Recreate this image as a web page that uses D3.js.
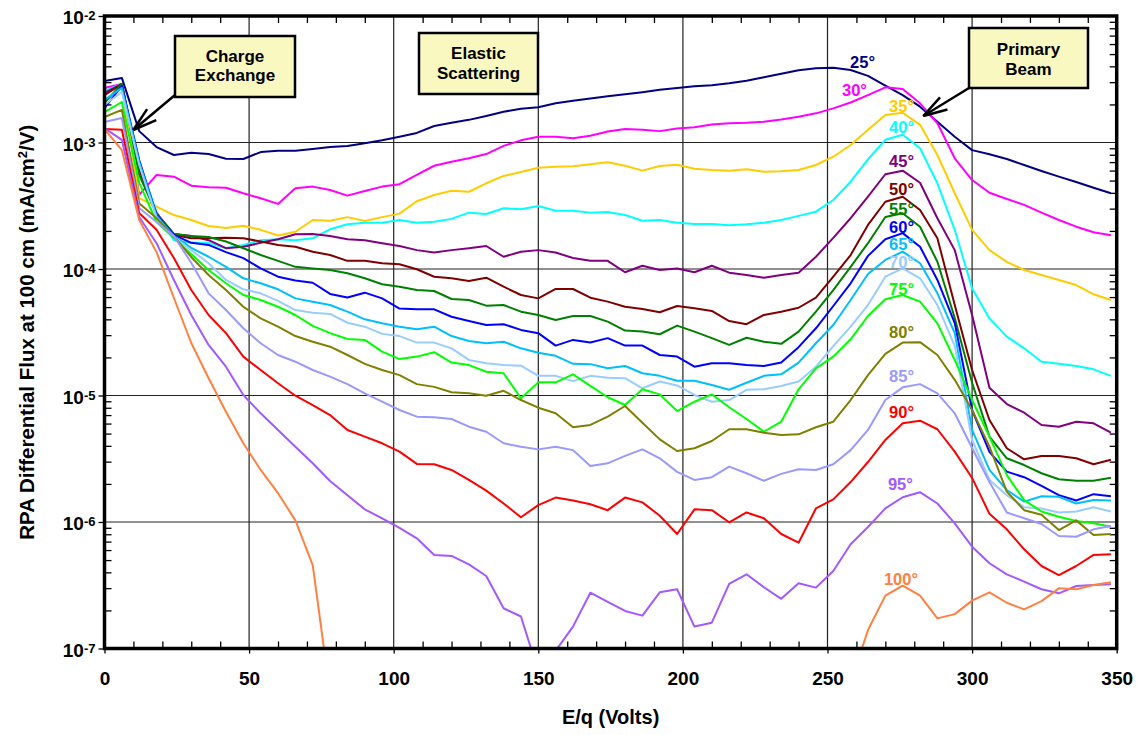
<!DOCTYPE html>
<html>
<head>
<meta charset="utf-8">
<script src="https://cdn.jsdelivr.net/npm/d3@7"></script>
<style>
  body { margin: 0; background: #fff; }
  svg { font-family: Arial, "Liberation Sans", sans-serif; font-weight: bold; }
</style>
</head>
<body>
<svg id="chart" width="1137" height="735"></svg>
<script>
// sample energies (E/q, volts)
const energy = [0, 6, 12, 18, 24, 30, 36, 42, 48, 54, 60, 66, 72, 78, 84, 90, 96, 102, 108, 114,
  120, 126, 132, 138, 144, 150, 156, 162, 168, 174, 180, 186, 192, 198, 204, 210, 216, 222, 228, 234,
  240, 246, 252, 258, 264, 270, 276, 282, 288, 294, 300, 306, 312, 318, 324, 330, 336, 342, 348]

// differential flux per scattering angle, mA/cm^2/V
const flux25 = [3.06e-3, 3.24e-3, 1.23e-3, 9.2e-4, 7.97e-4, 8.3e-4, 8.1e-4, 7.45e-4, 7.4e-4, 8.4e-4,
  8.6e-4, 8.6e-4, 8.9e-4, 9.2e-4, 9.4e-4, 9.85e-4, 1.04e-3, 1.11e-3, 1.19e-3, 1.35e-3,
  1.43e-3, 1.51e-3, 1.62e-3, 1.75e-3, 1.85e-3, 1.9e-3, 2.04e-3, 2.14e-3, 2.23e-3, 2.32e-3,
  2.41e-3, 2.5e-3, 2.61e-3, 2.7e-3, 2.78e-3, 2.84e-3, 2.94e-3, 3.08e-3, 3.28e-3, 3.5e-3,
  3.72e-3, 3.86e-3, 3.9e-3, 3.74e-3, 3.36e-3, 2.81e-3, 2.37e-3, 1.92e-3, 1.46e-3, 1.11e-3,
  8.7e-4, 8.07e-4, 7.4e-4, 6.64e-4, 5.95e-4, 5.37e-4, 4.87e-4, 4.39e-4, 3.97e-4]
const flux30 = [2.7e-3, 2.9e-3, 3.85e-4, 5.54e-4, 5.37e-4, 4.56e-4, 4.42e-4, 4.39e-4, 3.97e-4, 3.62e-4,
  3.27e-4, 4.35e-4, 4.48e-4, 4.21e-4, 3.8e-4, 4.14e-4, 4.48e-4, 4.68e-4, 5.54e-4, 6.55e-4,
  7.05e-4, 7.5e-4, 8.1e-4, 9.4e-4, 1.04e-3, 1.11e-3, 1.11e-3, 1.08e-3, 1.13e-3, 1.22e-3,
  1.28e-3, 1.26e-3, 1.23e-3, 1.29e-3, 1.32e-3, 1.39e-3, 1.42e-3, 1.43e-3, 1.46e-3, 1.52e-3,
  1.6e-3, 1.7e-3, 1.86e-3, 2.07e-3, 2.37e-3, 2.73e-3, 2.65e-3, 2.04e-3, 1.42e-3, 7.5e-4,
  5.05e-4, 4.01e-4, 3.58e-4, 3.21e-4, 2.79e-4, 2.44e-4, 2.16e-4, 1.95e-4, 1.85e-4]
const flux35 = [2.51e-3, 2.9e-3, 3.64e-4, 3.11e-4, 2.67e-4, 2.44e-4, 2.19e-4, 2.11e-4, 2.2e-4, 2.04e-4,
  1.84e-4, 1.97e-4, 2.44e-4, 2.41e-4, 2.57e-4, 2.4e-4, 2.57e-4, 2.74e-4, 3.43e-4, 3.85e-4,
  4.16e-4, 4.08e-4, 4.76e-4, 5.44e-4, 5.85e-4, 6.32e-4, 6.44e-4, 6.48e-4, 6.73e-4, 6.98e-4,
  6.55e-4, 5.99e-4, 6.52e-4, 6.68e-4, 6.21e-4, 6.06e-4, 5.99e-4, 6.14e-4, 5.88e-4, 5.92e-4,
  6.06e-4, 6.64e-4, 7.72e-4, 9.56e-4, 1.26e-3, 1.65e-3, 1.72e-3, 1.38e-3, 7.97e-4, 3.97e-4,
  2.04e-4, 1.41e-4, 1.14e-4, 9.82e-5, 8.97e-5, 8.19e-5, 7.47e-5, 6.31e-5, 5.69e-5]
const flux40 = [2.56e-3, 2.9e-3, 7.01e-4, 2.82e-4, 1.69e-4, 1.61e-4, 1.61e-4, 1.46e-4, 1.55e-4, 1.69e-4,
  1.72e-4, 1.69e-4, 1.75e-4, 2.06e-4, 2.26e-4, 2.32e-4, 2.32e-4, 2.44e-4, 2.32e-4, 2.36e-4,
  2.49e-4, 2.79e-4, 2.72e-4, 3.02e-4, 2.97e-4, 3.15e-4, 2.89e-4, 2.89e-4, 2.79e-4, 2.82e-4,
  2.67e-4, 2.41e-4, 2.44e-4, 2.32e-4, 2.27e-4, 2.27e-4, 2.22e-4, 2.26e-4, 2.32e-4, 2.44e-4,
  2.63e-4, 2.84e-4, 3.51e-4, 4.9e-4, 7.37e-4, 1.05e-3, 1.15e-3, 9.0e-4, 4.76e-4, 2.04e-4,
  7.03e-5, 4.07e-5, 2.92e-5, 2.36e-5, 1.85e-5, 1.78e-5, 1.71e-5, 1.61e-5, 1.43e-5]
const flux45 = [2.47e-3, 2.9e-3, 6.06e-4, 2.77e-4, 1.89e-4, 1.82e-4, 1.69e-4, 1.46e-4, 1.5e-4, 1.61e-4,
  1.72e-4, 1.88e-4, 1.89e-4, 1.82e-4, 1.72e-4, 1.69e-4, 1.6e-4, 1.52e-4, 1.41e-4, 1.35e-4,
  1.41e-4, 1.46e-4, 1.52e-4, 1.25e-4, 1.37e-4, 1.41e-4, 1.35e-4, 1.22e-4, 1.16e-4, 1.16e-4,
  9.42e-5, 1.06e-4, 9.82e-5, 1.01e-4, 9.42e-5, 1.06e-4, 9.35e-5, 8.97e-5, 8.54e-5, 8.97e-5,
  9.35e-5, 1.25e-4, 1.76e-4, 2.52e-4, 3.73e-4, 5.61e-4, 5.99e-4, 4.81e-4, 2.52e-4, 1.41e-4,
  4.33e-5, 1.15e-5, 8.56e-6, 7.31e-6, 5.85e-6, 5.67e-6, 6.21e-6, 6.03e-6, 5.08e-6]
const flux50 = [2.37e-3, 2.9e-3, 6.29e-4, 2.67e-4, 1.86e-4, 1.75e-4, 1.75e-4, 1.77e-4, 1.75e-4, 1.65e-4,
  1.55e-4, 1.5e-4, 1.37e-4, 1.29e-4, 1.16e-4, 1.16e-4, 1.11e-4, 1.09e-4, 9.95e-5, 8.69e-5,
  8.44e-5, 8.04e-5, 8.54e-5, 7.25e-5, 6.23e-5, 5.86e-5, 6.95e-5, 6.95e-5, 5.93e-5, 5.52e-5,
  5.03e-5, 4.83e-5, 4.55e-5, 5.1e-5, 4.89e-5, 4.66e-5, 3.88e-5, 3.66e-5, 4.33e-5, 4.6e-5,
  4.94e-5, 5.93e-5, 8.69e-5, 1.29e-4, 2.23e-4, 3.4e-4, 3.73e-4, 2.93e-4, 1.75e-4, 5.19e-5,
  1.59e-5, 6.4e-6, 3.83e-6, 3.13e-6, 3.33e-6, 3.33e-6, 3.19e-6, 2.86e-6, 3.1e-6]
const flux55 = [2.06e-3, 2.9e-3, 5.54e-4, 2.72e-4, 1.89e-4, 1.82e-4, 1.79e-4, 1.65e-4, 1.46e-4, 1.29e-4,
  1.16e-4, 1.04e-4, 1.01e-4, 9.82e-5, 9.25e-5, 8.44e-5, 7.57e-5, 7.25e-5, 6.82e-5, 6.7e-5,
  5.79e-5, 5.69e-5, 5.13e-5, 5.19e-5, 4.6e-5, 4.33e-5, 3.95e-5, 4.25e-5, 4.25e-5, 3.84e-5,
  3.26e-5, 3.2e-5, 3.05e-5, 3.57e-5, 3.2e-5, 2.84e-5, 2.51e-5, 2.86e-5, 2.66e-5, 2.56e-5,
  3.2e-5, 4.6e-5, 6.82e-5, 1.04e-4, 1.6e-4, 2.58e-4, 2.76e-4, 2.16e-4, 1.14e-4, 4.1e-5,
  1.26e-5, 4.73e-6, 3.19e-6, 2.82e-6, 2.43e-6, 2.18e-6, 2.12e-6, 2.12e-6, 2.24e-6]
const flux60 = [1.87e-3, 2.8e-3, 7.27e-4, 2.67e-4, 1.86e-4, 1.61e-4, 1.55e-4, 1.36e-4, 1.22e-4, 1.01e-4,
  8.69e-5, 8.11e-5, 7.79e-5, 6.35e-5, 5.95e-5, 6.5e-5, 5.86e-5, 4.87e-5, 4.8e-5, 4.8e-5,
  4.19e-5, 3.88e-5, 3.61e-5, 3.66e-5, 3.3e-5, 3.11e-5, 2.48e-5, 2.75e-5, 2.62e-5, 2.84e-5,
  2.48e-5, 2.48e-5, 2.09e-5, 2.03e-5, 1.69e-5, 1.8e-5, 1.8e-5, 1.74e-5, 1.71e-5, 1.82e-5,
  2.41e-5, 3.4e-5, 5.1e-5, 7.71e-5, 1.27e-4, 1.72e-4, 1.92e-4, 1.5e-4, 8.19e-5, 3.74e-5,
  7.68e-6, 3.58e-6, 2.5e-6, 2.26e-6, 1.93e-6, 1.63e-6, 1.48e-6, 1.66e-6, 1.6e-6]
const flux65 = [2.17e-3, 2.7e-3, 7.01e-4, 2.63e-4, 1.82e-4, 1.47e-4, 1.25e-4, 1.04e-4, 8.44e-5, 7.71e-5,
  6.91e-5, 5.86e-5, 5.52e-5, 5.19e-5, 4.6e-5, 4.0e-5, 3.72e-5, 3.5e-5, 3.34e-5, 3.5e-5,
  2.95e-5, 2.7e-5, 2.59e-5, 2.66e-5, 2.36e-5, 2.18e-5, 2.06e-5, 1.78e-5, 1.77e-5, 1.64e-5,
  1.71e-5, 1.5e-5, 1.43e-5, 1.31e-5, 1.31e-5, 1.21e-5, 1.11e-5, 1.26e-5, 1.43e-5, 1.47e-5,
  1.82e-5, 2.59e-5, 3.61e-5, 5.69e-5, 9.13e-5, 1.18e-4, 1.37e-4, 1.11e-4, 6.42e-5, 3.11e-5,
  5.34e-6, 2.58e-6, 1.79e-6, 1.45e-6, 1.6e-6, 1.58e-6, 1.4e-6, 1.49e-6, 1.48e-6]
const flux70 = [1.98e-3, 2.51e-3, 6.64e-4, 2.54e-4, 1.79e-4, 1.41e-4, 1.11e-4, 8.19e-5, 6.91e-5, 6.42e-5,
  5.59e-5, 4.74e-5, 4.51e-5, 4.41e-5, 3.76e-5, 3.5e-5, 3.07e-5, 2.95e-5, 2.62e-5, 2.62e-5,
  2.36e-5, 1.91e-5, 1.8e-5, 1.74e-5, 1.72e-5, 1.43e-5, 1.43e-5, 1.3e-5, 1.43e-5, 1.38e-5,
  1.37e-5, 1.14e-5, 1.29e-5, 1.2e-5, 1.01e-5, 8.93e-6, 9.21e-6, 1.11e-5, 1.12e-5, 1.19e-5,
  1.29e-5, 1.69e-5, 2.46e-5, 3.5e-5, 5.19e-5, 8.69e-5, 1.01e-4, 8.44e-5, 5.19e-5, 2.47e-5,
  4.45e-6, 2.15e-6, 1.63e-6, 1.31e-6, 1.28e-6, 1.19e-6, 1.21e-6, 1.31e-6, 1.21e-6]
const flux75 = [1.74e-3, 2.09e-3, 4.79e-4, 2.35e-4, 1.76e-4, 1.31e-4, 9.82e-5, 7.71e-5, 6.23e-5, 5.69e-5,
  5.03e-5, 4.33e-5, 3.55e-5, 3.11e-5, 2.8e-5, 2.75e-5, 2.22e-5, 1.94e-5, 2.03e-5, 2.2e-5,
  1.82e-5, 1.74e-5, 1.54e-5, 1.5e-5, 9.5e-6, 1.27e-5, 1.27e-5, 1.47e-5, 1.19e-5, 9.68e-6,
  8.41e-6, 1.12e-5, 1.02e-5, 7.54e-6, 8.93e-6, 1.02e-5, 8.07e-6, 6.52e-6, 5.17e-6, 6.21e-6,
  1.12e-5, 1.64e-5, 2.03e-5, 2.78e-5, 4.25e-5, 5.76e-5, 6.23e-5, 5.52e-5, 3.72e-5, 1.91e-5,
  9.21e-6, 4.73e-6, 2.35e-6, 1.49e-6, 1.21e-6, 1.1e-6, 1.02e-6, 9.76e-7, 9.18e-7]
const flux80 = [1.59e-3, 1.81e-3, 3.31e-4, 2.52e-4, 1.82e-4, 1.24e-4, 8.97e-5, 6.82e-5, 5.03e-5, 4.07e-5,
  3.5e-5, 2.95e-5, 2.66e-5, 2.43e-5, 2.09e-5, 1.78e-5, 1.59e-5, 1.45e-5, 1.23e-5, 1.17e-5,
  1.06e-5, 1.04e-5, 9.96e-6, 1.09e-5, 9.21e-6, 8.01e-6, 7.23e-6, 5.61e-6, 5.85e-6, 6.8e-6,
  8.26e-6, 6.09e-6, 4.5e-6, 3.64e-6, 3.83e-6, 4.37e-6, 5.41e-6, 5.41e-6, 5.08e-6, 4.87e-6,
  4.93e-6, 5.61e-6, 6.21e-6, 9.21e-6, 1.45e-5, 2.13e-5, 2.62e-5, 2.64e-5, 2.09e-5, 1.33e-5,
  7.68e-6, 3.94e-6, 1.74e-6, 1.24e-6, 1.14e-6, 8.64e-7, 1.03e-6, 7.9e-7, 8.04e-7]
const flux85 = [1.45e-3, 1.56e-3, 3.04e-4, 2.35e-4, 1.82e-4, 1.12e-4, 6.42e-5, 4.74e-5, 3.4e-5, 2.59e-5,
  2.09e-5, 1.85e-5, 1.59e-5, 1.41e-5, 1.23e-5, 1.04e-5, 8.93e-6, 7.68e-6, 6.8e-6, 6.73e-6,
  6.52e-6, 5.67e-6, 5.17e-6, 4.19e-6, 3.94e-6, 3.75e-6, 3.94e-6, 3.7e-6, 2.77e-6, 2.91e-6,
  3.33e-6, 3.75e-6, 3.19e-6, 2.49e-6, 2.15e-6, 2.26e-6, 2.74e-6, 2.43e-6, 2.12e-6, 2.4e-6,
  2.61e-6, 2.58e-6, 2.86e-6, 3.7e-6, 5.34e-6, 9.21e-6, 1.16e-5, 1.23e-5, 1.04e-5, 7.23e-6,
  3.85e-6, 2.07e-6, 1.19e-6, 1.07e-6, 9.64e-7, 7.75e-7, 7.65e-7, 8.75e-7, 9.29e-7]
const flux90 = [1.28e-3, 1.26e-3, 2.77e-4, 2.04e-4, 1.22e-4, 6.82e-5, 4.33e-5, 3.11e-5, 2.03e-5, 1.59e-5,
  1.25e-5, 9.96e-6, 8.41e-6, 7.01e-6, 5.34e-6, 4.73e-6, 4.19e-6, 3.6e-6, 2.88e-6, 2.86e-6,
  2.58e-6, 2.15e-6, 1.77e-6, 1.4e-6, 1.09e-6, 1.36e-6, 1.56e-6, 1.48e-6, 1.38e-6, 1.24e-6,
  1.56e-6, 1.43e-6, 1.12e-6, 8.04e-7, 1.26e-6, 1.24e-6, 9.95e-7, 1.19e-6, 1.07e-6, 8.04e-7,
  6.86e-7, 1.28e-6, 1.51e-6, 2.07e-6, 2.98e-6, 4.45e-6, 6.03e-6, 6.32e-6, 5.41e-6, 3.6e-6,
  2.23e-6, 1.16e-6, 8.75e-7, 6.08e-7, 4.49e-7, 3.81e-7, 4.49e-7, 5.49e-7, 5.56e-7]
const flux95 = [1.3e-3, 1.05e-3, 2.58e-4, 1.6e-4, 8.19e-5, 4.33e-5, 2.51e-5, 1.69e-5, 1.01e-5, 7.23e-6,
  5.34e-6, 3.94e-6, 2.91e-6, 2.11e-6, 1.63e-6, 1.26e-6, 1.07e-6, 8.97e-7, 7.43e-7, 5.49e-7,
  5.39e-7, 4.63e-7, 3.74e-7, 2.08e-7, 1.79e-7, 6.58e-8, 9.6e-8, 1.49e-7, 2.76e-7, 2.34e-7,
  1.98e-7, 1.82e-7, 2.78e-7, 2.94e-7, 1.49e-7, 1.6e-7, 3.24e-7, 3.86e-7, 3.05e-7, 2.47e-7,
  3.28e-7, 3.03e-7, 4.1e-7, 6.67e-7, 9.13e-7, 1.28e-6, 1.57e-6, 1.72e-6, 1.4e-6, 9.76e-7,
  6.38e-7, 4.72e-7, 3.86e-7, 3.38e-7, 2.94e-7, 2.73e-7, 3.12e-7, 3.18e-7, 3.22e-7]
// 100 deg drops below the axis between ~78 V and ~258 V (no readable values there)
const flux100 = [1.28e-3, 8.72e-4, 2.44e-4, 1.36e-4, 5.9e-5, 2.6e-5, 1.37e-5, 7.45e-6, 4.19e-6, 2.58e-6,
  1.69e-6, 1.03e-6, 4.57e-7, 4.4e-8,
  null, null, null, null, null, null, null, null, null, null,
  null, null, null, null, null, null, null, null, null, null,
  null, null, null, null, null, null, null, null, null,
  5.34e-8, 1.4e-7, 2.62e-7, 3.14e-7, 2.62e-7, 1.73e-7, 1.87e-7,
  2.39e-7, 2.78e-7, 2.3e-7, 2.04e-7, 2.37e-7, 2.99e-7, 2.94e-7, 3.18e-7, 3.34e-7]

const angles = [25, 30, 35, 40, 45, 50, 55, 60, 65, 70, 75, 80, 85, 90, 95, 100]
const fluxes = [flux25, flux30, flux35, flux40, flux45, flux50, flux55, flux60,
  flux65, flux70, flux75, flux80, flux85, flux90, flux95, flux100]
const colors = ["#000080", "#FF00FF", "#FFCC00", "#00FFFF", "#800080", "#800000", "#008000", "#0000FF",
  "#00BFFF", "#99CCFF", "#00FF00", "#808000", "#9999FF", "#FF0000", "#A259FF", "#FF8040"]

// where each angle label sits (volts, flux)
const labelSpots = [[257.8, 3.88e-3], [255, 2.33e-3], [271.3, 1.75e-3], [271.3, 1.19e-3],
  [271.3, 6.44e-4], [271.3, 3.85e-4], [271.3, 2.67e-4], [271.3, 1.92e-4], [271.3, 1.41e-4],
  [271.3, 1.01e-4], [271.3, 6.23e-5], [271.3, 2.84e-5], [271.3, 1.29e-5], [271.3, 6.6e-6],
  [270.9, 1.79e-6], [269.5, 3.18e-7]]

const xTicks = [0, 50, 100, 150, 200, 250, 300, 350]
const yExponents = [-7, -6, -5, -4, -3, -2]

const svg = d3.select("#chart")
const plot = { left: 104.5, right: 1116.7, top: 16, bottom: 648.5 }

const x = d3.scaleLinear().domain([0, 350]).range([plot.left, plot.right])
const y = d3.scaleLog().domain([1e-7, 1e-2]).range([plot.bottom, plot.top])

svg.append("defs").append("clipPath").attr("id", "clip")
  .append("rect")
  .attr("x", plot.left).attr("y", plot.top)
  .attr("width", plot.right - plot.left).attr("height", plot.bottom - plot.top)

// grid
const grid = svg.append("g").attr("stroke", "#222").attr("stroke-width", 1.2)
grid.selectAll(".vg").data(xTicks.slice(1, -1)).join("line")
  .attr("x1", d => x(d)).attr("x2", d => x(d))
  .attr("y1", plot.top).attr("y2", plot.bottom)
grid.selectAll(".hg").data(yExponents.slice(1, -1)).join("line")
  .attr("x1", plot.left).attr("x2", plot.right)
  .attr("y1", d => y(Math.pow(10, d))).attr("y2", d => y(Math.pow(10, d)))

// minor ticks on all four sides, pointing inward
const xMinor = d3.range(10, 350, 10).filter(v => v % 50 !== 0)
const yMinor = []
yExponents.slice(0, -1).forEach(e => { for (let m = 2; m <= 9; m++) yMinor.push(m * Math.pow(10, e)) })

const tidy = g => {
  g.select(".domain").remove()
  g.selectAll("line").attr("stroke", "#000").attr("stroke-width", 1.3)
}
svg.append("g").attr("transform", `translate(0,${plot.bottom})`)
  .call(d3.axisBottom(x).tickValues(xMinor).tickSize(-7).tickFormat("")).call(tidy)
svg.append("g").attr("transform", `translate(0,${plot.top})`)
  .call(d3.axisTop(x).tickValues(xMinor).tickSize(-7).tickFormat("")).call(tidy)
svg.append("g").attr("transform", `translate(${plot.left},0)`)
  .call(d3.axisLeft(y).tickValues(yMinor).tickSize(-7).tickFormat("")).call(tidy)
svg.append("g").attr("transform", `translate(${plot.right},0)`)
  .call(d3.axisRight(y).tickValues(yMinor).tickSize(-7).tickFormat("")).call(tidy)

// major x axis with labels
const xAxis = svg.append("g").attr("transform", `translate(0,${plot.bottom})`)
  .call(d3.axisBottom(x).tickValues(xTicks).tickSize(5).tickPadding(18).tickFormat(d3.format("d")))
  .call(tidy)
xAxis.selectAll("text").attr("font-size", 19).attr("font-family", null).attr("font-weight", "bold").attr("fill", "#000")

// major y ticks and 10^n labels
svg.append("g").attr("transform", `translate(${plot.left},0)`)
  .call(d3.axisLeft(y).tickValues(yExponents.map(e => Math.pow(10, e))).tickSize(6).tickFormat(""))
  .call(tidy)
const yLab = svg.append("g").selectAll("text").data(yExponents).join("text")
  .attr("x", plot.left - 9).attr("y", d => y(Math.pow(10, d)) + 8)
  .attr("text-anchor", "end").attr("font-size", 19)
yLab.append("tspan").text("10")
yLab.append("tspan").attr("font-size", 13).attr("dy", -4).text(d => d)

// curves
const line = d3.line()
  .defined(d => d[1] != null)
  .x(d => x(d[0]))
  .y(d => y(d[1]))

const curves = svg.append("g").attr("clip-path", "url(#clip)")
angles.forEach((a, i) => {
  curves.append("path")
    .datum(energy.map((e, j) => [e, fluxes[i][j]]))
    .attr("d", line)
    .attr("fill", "none")
    .attr("stroke", colors[i])
    .attr("stroke-width", 2)
    .attr("stroke-linejoin", "round")
})

// angle labels
svg.append("g").selectAll("text").data(angles).join("text")
  .attr("x", (d, i) => x(labelSpots[i][0]))
  .attr("y", (d, i) => y(labelSpots[i][1]))
  .attr("font-size", 16.5)
  .attr("fill", (d, i) => colors[i])
  .text(d => d + "°")

// frame
svg.append("rect")
  .attr("x", plot.left).attr("y", plot.top)
  .attr("width", plot.right - plot.left).attr("height", plot.bottom - plot.top)
  .attr("fill", "none").attr("stroke", "#000").attr("stroke-width", 3.5)

// axis titles
svg.append("text")
  .attr("x", (plot.left + plot.right) / 2).attr("y", 724)
  .attr("text-anchor", "middle").attr("font-size", 20)
  .text("E/q (Volts)")
const yTitle = svg.append("text")
  .attr("transform", `translate(34,${(plot.top + plot.bottom) / 2}) rotate(-90)`)
  .attr("text-anchor", "middle").attr("font-size", 20.5)
yTitle.append("tspan").text("RPA Differential Flux at 100 cm (mA/cm")
yTitle.append("tspan").attr("font-size", 13).attr("dy", -7).text("2")
yTitle.append("tspan").attr("dy", 7).text("/V)")

// callout boxes with arrows
const notes = [
  { lines: ["Charge", "Exchange"], box: [175, 36, 295, 97], base: [61.5, 81], from: [175, 95], tip: [133.3, 130] },
  { lines: ["Elastic", "Scattering"], box: [419, 33, 538, 94], base: [59.3, 79] },
  { lines: ["Primary", "Beam"], box: [969, 28, 1088, 88], base: [55, 74.5], from: [969, 88], tip: [923.3, 116] }
]
const noteG = svg.append("g")
notes.forEach(n => {
  const [x0, y0, x1, y1] = n.box
  if (n.tip) {
    noteG.append("line")
      .attr("x1", n.from[0]).attr("y1", n.from[1]).attr("x2", n.tip[0]).attr("y2", n.tip[1])
      .attr("stroke", "#000").attr("stroke-width", 2.5)
    const ang = Math.atan2(n.from[1] - n.tip[1], n.from[0] - n.tip[0])
    const spread = 16.5 * Math.PI / 180, len = 25
    ;[-spread, spread].forEach(s => {
      noteG.append("line")
        .attr("x1", n.tip[0]).attr("y1", n.tip[1])
        .attr("x2", n.tip[0] + len * Math.cos(ang + s)).attr("y2", n.tip[1] + len * Math.sin(ang + s))
        .attr("stroke", "#000").attr("stroke-width", 2.5)
    })
  }
  noteG.append("rect")
    .attr("x", x0).attr("y", y0).attr("width", x1 - x0).attr("height", y1 - y0)
    .attr("fill", "#F8F8C0").attr("stroke", "#000").attr("stroke-width", 2.5)
  n.lines.forEach((t, k) => {
    noteG.append("text")
      .attr("x", (x0 + x1) / 2).attr("y", n.base[k])
      .attr("text-anchor", "middle").attr("font-size", 17)
      .text(t)
  })
})
</script>
</body>
</html>
